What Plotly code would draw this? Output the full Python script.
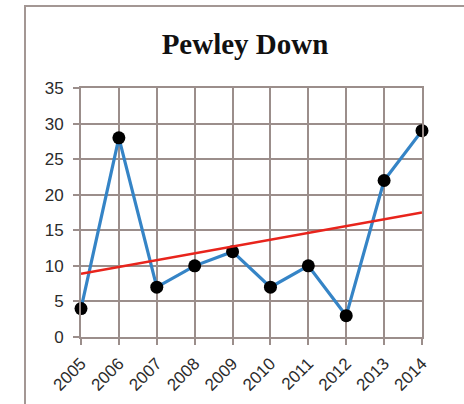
import numpy as np
import plotly.graph_objects as go

# Survey counts at Pewley Down, one value per year
years = [2005, 2006, 2007, 2008, 2009, 2010, 2011, 2012, 2013, 2014]
counts = [4, 28, 7, 10, 12, 7, 10, 3, 22, 29]
year_labels = [str(y) for y in years]
y_ticks = [0, 5, 10, 15, 20, 25, 30, 35]

# Least-squares trend line across the years
slope, intercept = np.polyfit(years, counts, 1)
trend = [slope * y + intercept for y in years]

W, H = 464, 404
L, R, T, B = 81, 42, 88, 67
pw, ph = W - L - R, H - T - B

grid_col = "#9b8e8b"

fig = go.Figure()
fig.add_trace(go.Scatter(
    x=years, y=counts, mode="lines+markers",
    line=dict(color="#3584c6", width=3.2),
    marker=dict(color="black", size=13),
    cliponaxis=False, showlegend=False,
))
fig.add_trace(go.Scatter(
    x=[years[0], years[-1]], y=[trend[0], trend[-1]], mode="lines",
    line=dict(color="#e8241c", width=2.6),
    cliponaxis=False, showlegend=False,
))

# Outer frame around the chart (top and left edges fall inside the page)
fig.add_shape(
    type="rect", xref="paper", yref="paper",
    x0=(25 - L) / pw, x1=(W + 40 - L) / pw,
    y0=-(B + 40) / ph, y1=(H - B - 6) / ph,
    line=dict(color="#a39794", width=2), fillcolor="rgba(0,0,0,0)",
    layer="below",
)

axis_common = dict(
    showgrid=True, gridcolor=grid_col, gridwidth=2,
    ticks="outside", ticklen=6, tickcolor=grid_col, tickwidth=2,
    showline=True, mirror=True, linecolor=grid_col, linewidth=2,
    zeroline=False, automargin=False,
)

fig.update_layout(
    width=W, height=H,
    margin=dict(l=L, r=R, t=T, b=B),
    paper_bgcolor="white", plot_bgcolor="white",
    title=dict(
        text="<b>Pewley Down</b>", x=(245 - L) / pw, xref="paper", xanchor="center",
        y=1 - 44 / H, yanchor="middle",
        font=dict(family="Liberation Serif", size=29, color="#111111"),
    ),
    xaxis=dict(
        range=[2005, 2014], tickvals=years, ticktext=year_labels,
        tickangle=-45, ticklabelstandoff=2,
        tickfont=dict(family="Liberation Sans", size=17, color="#2b2b2b"),
        **axis_common,
    ),
    yaxis=dict(
        range=[0, 35], tickvals=y_ticks, ticklabelstandoff=6,
        tickfont=dict(family="Liberation Sans", size=17, color="#2b2b2b"),
        **axis_common,
    ),
)

fig.write_html("out.html")
